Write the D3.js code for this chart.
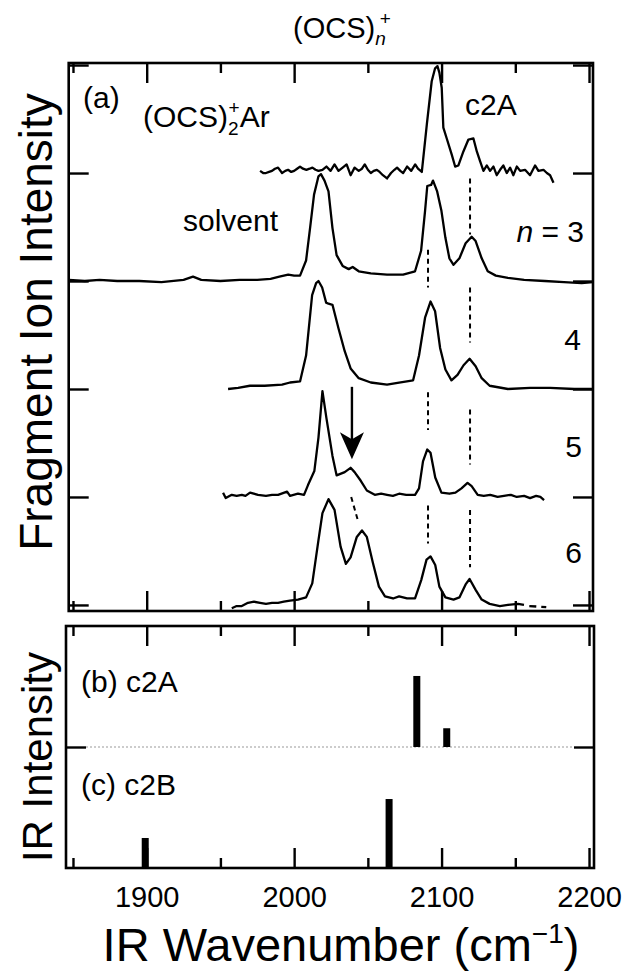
<!DOCTYPE html>
<html>
<head>
<meta charset="utf-8">
<script src="https://cdn.jsdelivr.net/npm/d3@7"></script>
<style>
  body { margin: 0; background: #fff; }
  svg { display: block; font-family: "Liberation Sans", Arial, Helvetica, sans-serif; }
</style>
</head>
<body>
<div id="chart"></div>
<script>
// IR wavenumber (cm-1), fragment ion intensity (arb. units, offset traces by 100)
const traceOffsets = [400, 300, 200, 100, 0];

const specAr = [
  [1976.9, 2], [1979, 0], [1980.9, 0], [1983, 1], [1985, 2], [1987, 4], [1989.1, 5], [1991.8, 0],
  [1994, 2], [1995.9, 3], [1998, 1], [2000, 2], [2002, 4], [2004, 6], [2006, 4], [2008.3, 3],
  [2010.5, 4], [2012.4, 5], [2014.5, 3], [2016.5, 2], [2019.2, 3], [2021.9, 6], [2024.7, 2],
  [2027.4, 8], [2030.1, 2], [2032.9, 5], [2035.6, 8], [2038.3, -2], [2041, 5], [2043.8, 2],
  [2046, 4], [2047.9, 8], [2050, 3], [2052, 0], [2054, 2], [2056.1, 3], [2058, 1], [2060.2, -2],
  [2063, -5], [2065.7, 0], [2068, 3], [2069.8, 5], [2072, 2], [2073.9, 0], [2076.6, 6], [2079.4, 2],
  [2082.1, 8], [2084, 4], [2086.6, 1], [2090, 45], [2093.3, 85], [2095.6, 97], [2097.2, 99],
  [2098.5, 93], [2100.1, 79], [2101.2, 42], [2103.5, 32], [2106.9, 17], [2109.2, 6], [2111.4, 7],
  [2114.8, 20], [2118.2, 31], [2121.6, 32], [2123.9, 20], [2126.1, 11], [2128.4, 2], [2130.7, 7],
  [2132.9, 2], [2135.2, 6], [2137.4, -2], [2139.7, 3], [2141.9, 7], [2144.2, 0], [2146.5, 5],
  [2148.7, -2], [2151, 6], [2153.3, 2], [2156.6, 3], [2160, -2], [2163.4, 7], [2165.7, 2],
  [2169.1, 3], [2171.4, 0], [2173.6, -2], [2175.9, -9]
];

const specN3 = [
  [1847.3, 1], [1858, 0], [1868, 1], [1880, 0], [1895, 0], [1910, -1], [1925, 1], [1931.4, 4],
  [1937, 1], [1950, 0], [1963, 1], [1975, 1], [1984, 2], [1990, 4], [1996, 6], [2000, 5], [2004, 5],
  [2008.1, 19], [2010.8, 49], [2013.5, 80], [2016.5, 97], [2018.2, 99], [2020.6, 93], [2023.3, 83],
  [2026, 49], [2028.8, 24], [2032.9, 14], [2037, 11], [2039.7, 13], [2043.8, 9], [2052, 7],
  [2063, 6], [2073.9, 6], [2082, 9], [2086.1, 28], [2088.8, 65], [2090.3, 88], [2092.9, 89],
  [2094.2, 93], [2097, 83], [2099.9, 65], [2102.6, 40], [2105.3, 21], [2108.1, 15], [2112.1, 21],
  [2116.3, 35], [2120.4, 41], [2123.1, 37], [2127.2, 21], [2131.3, 9], [2136.8, 5], [2145, 3],
  [2156, 1], [2170, 0], [2183, -1], [2195, -2], [2202.7, -1]
];

const specN4 = [
  [1955.2, 0], [1962, 1], [1970, 3], [1980, 3], [1991.8, 4], [1997.2, 6], [2004, 7], [2008.1, 31],
  [2012.2, 87], [2014.9, 98], [2016.5, 100], [2019, 94], [2021.7, 80], [2023.3, 79], [2026, 78],
  [2030.1, 56], [2034.3, 35], [2038.3, 19], [2043.8, 10], [2052, 6], [2063, 4], [2071.2, 6],
  [2080.7, 8], [2084.7, 31], [2088.8, 66], [2092.5, 81], [2095.6, 72], [2099, 38], [2102.6, 18],
  [2106.7, 8], [2110.8, 13], [2114.9, 22], [2119, 28], [2123.1, 21], [2127.2, 10], [2132.6, 3],
  [2145, 0], [2160, 1], [2173.6, 1], [2190, 0], [2202, 0]
];

const specN5 = [
  [1951.8, 4], [1953.6, -1], [1957.7, 2], [1961, 1], [1964.5, 2], [1967, 1], [1970.1, 4], [1975.5, 2],
  [1980.9, 1], [1985, 2], [1989.1, 2], [1995.2, 5], [1997.2, 1], [2002.6, 3], [2006.7, 2],
  [2009.4, 11], [2013.7, 24], [2016.5, 55], [2019.2, 98], [2021.9, 73], [2026, 38], [2028.8, 20],
  [2034.3, 23], [2038.3, 27], [2041, 23], [2045.2, 15], [2049.3, 6], [2054.7, 2], [2059, 3],
  [2063, 2], [2067, 1], [2071.2, 3], [2076, 2], [2082, 2], [2084.7, 8], [2087.4, 33], [2090.3, 44],
  [2092.5, 41], [2095.7, 18], [2099.9, 4], [2105.3, 3], [2109.4, 4], [2113.5, 8], [2117.6, 13],
  [2120.4, 10], [2124.5, 2], [2128.6, 1], [2133, 2], [2138, 0], [2142.3, 1], [2147, 2], [2151, 0],
  [2156, 1], [2160, -1], [2164.1, 1], [2167, 0], [2169.5, -3]
];

const specN6 = [
  [1957.7, -3], [1961, -1], [1964.5, -1], [1968.7, 2], [1972.8, 3], [1976.9, 2], [1980.9, 1],
  [1985, 2], [1989.1, 2], [1993, 3], [1997.2, 4], [2002.6, 5], [2008.1, 7], [2012.3, 20],
  [2016.5, 60], [2019.2, 85], [2023.3, 98], [2027.4, 88], [2031.5, 54], [2035.1, 38], [2038.3, 44],
  [2042.5, 63], [2046, 69], [2049.3, 63], [2053.4, 39], [2057.5, 17], [2061.6, 8], [2067.1, 6],
  [2071.2, 8], [2076.6, 6], [2082, 6], [2086.2, 23], [2089.8, 42], [2092.5, 45], [2095.7, 37],
  [2098.5, 17], [2102.6, 7], [2108.1, 5], [2112.1, 7], [2116.3, 19], [2119, 24], [2123.1, 14],
  [2127.2, 5], [2132.6, 1], [2139.5, -1], [2145, 0], [2151.8, 1], [2155.9, 0]
];
const specN6Tail = [[2159.5, -1], [2171, -2]];

// peak markers (wavenumber, [from, to] on the offset intensity scale)
const markC2aHigh = [[2119.3, 395, 343], [2119.3, 294, 243], [2119.3, 181, 130], [2119.3, 88, 35]];
const markC2aLow = [[2090.8, 329, 294], [2090.8, 197, 162], [2090.8, 92, 57]];
const markShift = [[2038.7, 100], [2043.7, 76]];
const arrowMark = [2039.2, 202, 135];

// calculated IR spectra (sticks)
const c2aFreq = [2083.2, 2103.5];
const c2aInt = [0.587, 0.155];
const c2bFreq = [1899, 2064.4];
const c2bInt = [0.248, 0.57];

const xMajor = [1900, 2000, 2100, 2200];
const xMinor = [1850, 1950, 2050, 2150];
const yTicksA = [0, 100, 200, 300, 400, 500];

const width = 630, height = 977;
const svg = d3.select('#chart').append('svg')
  .attr('width', width).attr('height', height);

const x = d3.scaleLinear().domain([1847.1, 2202.7]).range([68.7, 593]);
const y = d3.scaleLinear().domain([-5.6, 501.9]).range([611, 63]);
const yIR = d3.scaleLinear().domain([-1, 1]).range([868, 626]);

const A = { left: 68.7, right: 593, top: 63, bottom: 611 };
const B = { left: 66, right: 594, top: 626, bottom: 868 };

function ticksX(panel) {
  [[xMajor, 20], [xMinor, 10]].forEach(([vals, len]) => {
    svg.append('g').attr('class', 'ax').attr('transform', `translate(0,${panel.top})`)
      .call(d3.axisTop(x).tickValues(vals).tickSize(-len).tickFormat(''));
    svg.append('g').attr('class', 'ax').attr('transform', `translate(0,${panel.bottom})`)
      .call(d3.axisBottom(x).tickValues(vals).tickSize(-len).tickFormat(''));
  });
}

// panel (a)
ticksX(A);
svg.append('g').attr('class', 'ax').attr('transform', `translate(${A.left},0)`)
  .call(d3.axisLeft(y).tickValues(yTicksA).tickSize(-20).tickFormat(''));
svg.append('g').attr('class', 'ax').attr('transform', `translate(${A.right},0)`)
  .call(d3.axisRight(y).tickValues(yTicksA).tickSize(-20).tickFormat(''));

// panel (b)/(c)
ticksX(B);
svg.append('g').attr('class', 'ax').attr('transform', `translate(${B.left},0)`)
  .call(d3.axisLeft(yIR).tickValues([0]).tickSize(-20).tickFormat(''));
svg.append('g').attr('class', 'ax').attr('transform', `translate(${B.right},0)`)
  .call(d3.axisRight(yIR).tickValues([0]).tickSize(-20).tickFormat(''));

// tick labels
svg.append('g').attr('class', 'lab').attr('transform', `translate(0,${B.bottom})`)
  .call(d3.axisBottom(x).tickValues(xMajor).tickSize(0).tickPadding(18).tickFormat(d3.format('d')));

svg.selectAll('.ax path.domain, .lab path.domain').remove();
svg.selectAll('.ax line').attr('stroke', '#000').attr('stroke-width', 2.4);
svg.selectAll('.lab text').attr('font-size', 29).attr('font-family', null).attr('fill', '#000');

// frames
[A, B].forEach(p => {
  svg.append('rect')
    .attr('x', p.left).attr('y', p.top)
    .attr('width', p.right - p.left).attr('height', p.bottom - p.top)
    .attr('fill', 'none').attr('stroke', '#000').attr('stroke-width', 2.6);
});

// grey zero line between (b) and (c)
svg.append('line')
  .attr('x1', B.left + 20).attr('x2', B.right - 20)
  .attr('y1', yIR(0)).attr('y2', yIR(0))
  .attr('stroke', '#999').attr('stroke-width', 1).attr('stroke-dasharray', '2,2');

// traces
const line = d3.line().x(d => x(d[0])).y(d => y(d[1]));
[specAr, specN3, specN4, specN5, specN6].forEach((s, i) => {
  svg.append('path')
    .datum(s.map(d => [d[0], d[1] + traceOffsets[i]]))
    .attr('d', line)
    .attr('fill', 'none').attr('stroke', '#000').attr('stroke-width', 2.3)
    .attr('stroke-linejoin', 'round');
});
svg.append('path')
  .datum(specN6Tail)
  .attr('d', line)
  .attr('fill', 'none').attr('stroke', '#000').attr('stroke-width', 2.3)
  .attr('stroke-dasharray', '7,5');

// dotted peak markers
function dashLine(x1, v1, x2, v2) {
  svg.append('line')
    .attr('x1', x(x1)).attr('y1', y(v1)).attr('x2', x(x2)).attr('y2', y(v2))
    .attr('stroke', '#000').attr('stroke-width', 2).attr('stroke-dasharray', '5,4');
}
markC2aHigh.concat(markC2aLow).forEach(m => dashLine(m[0], m[1], m[0], m[2]));
dashLine(markShift[0][0], markShift[0][1], markShift[1][0], markShift[1][1]);

// arrow
const ax = x(arrowMark[0]), ay1 = y(arrowMark[1]), ay2 = y(arrowMark[2]);
svg.append('line')
  .attr('x1', ax).attr('x2', ax).attr('y1', ay1).attr('y2', ay2 - 15)
  .attr('stroke', '#000').attr('stroke-width', 2.4);
svg.append('path')
  .attr('d', `M${ax},${ay2} L${ax - 12},${ay2 - 27} L${ax},${ay2 - 20} L${ax + 12},${ay2 - 27} Z`)
  .attr('fill', '#000');

// stick spectra
const barW = 7;
svg.append('g').selectAll('rect')
  .data(c2aFreq.map((f, i) => [f, c2aInt[i], 0]).concat(c2bFreq.map((f, i) => [f, c2bInt[i], -1])))
  .join('rect')
  .attr('x', d => x(d[0]) - barW / 2)
  .attr('y', d => yIR(d[2] + d[1]))
  .attr('width', barW)
  .attr('height', d => yIR(d[2]) - yIR(d[2] + d[1]))
  .attr('fill', '#000');

// texts
const fs = 30;
function txt(t, px, py, size, anchor) {
  return svg.append('text').attr('x', px).attr('y', py)
    .attr('font-size', size).attr('text-anchor', anchor || 'start').attr('fill', '#000').text(t);
}

const title = svg.append('text').attr('x', 293).attr('y', 38).attr('font-size', 29).attr('fill', '#000');
title.append('tspan').text('(OCS)');
title.append('tspan').attr('font-size', 19).attr('font-style', 'italic').attr('dy', 7).text('n');
title.append('tspan').attr('font-size', 19).attr('dx', -6).attr('dy', -20).text('+');

txt('(a)', 83, 108, fs);
const ar = svg.append('text').attr('x', 143).attr('y', 127).attr('font-size', fs).attr('fill', '#000');
ar.append('tspan').text('(OCS)');
ar.append('tspan').attr('font-size', 19).attr('dy', 8).text('2');
ar.append('tspan').attr('font-size', 19).attr('dx', -10).attr('dy', -21).text('+');
ar.append('tspan').attr('dy', 13).text('Ar');

txt('c2A', 465, 115, fs);
txt('solvent', 183, 231, fs);
const n3 = svg.append('text').attr('x', 584).attr('y', 242).attr('font-size', fs)
  .attr('text-anchor', 'end').attr('fill', '#000');
n3.append('tspan').attr('font-style', 'italic').text('n');
n3.append('tspan').text(' = 3');
txt('4', 581, 350, fs, 'end');
txt('5', 582, 457, fs, 'end');
txt('6', 582, 563, fs, 'end');
txt('(b) c2A', 81, 692, fs);
txt('(c) c2B', 81, 795, fs);

svg.append('text')
  .attr('transform', `translate(52,322) rotate(-90)`)
  .attr('text-anchor', 'middle').attr('font-size', 46).attr('fill', '#000')
  .text('Fragment Ion Intensity');
svg.append('text')
  .attr('transform', `translate(52,757) rotate(-90)`)
  .attr('text-anchor', 'middle').attr('font-size', 42).attr('fill', '#000')
  .text('IR Intensity');

const xt = svg.append('text').attr('x', 341).attr('y', 961)
  .attr('text-anchor', 'middle').attr('font-size', 47).attr('fill', '#000');
xt.append('tspan').text('IR Wavenumber (cm');
xt.append('tspan').attr('font-size', 28).attr('dy', -18).text('\u22121');
xt.append('tspan').attr('dy', 18).text(')');
</script>
</body>
</html>
